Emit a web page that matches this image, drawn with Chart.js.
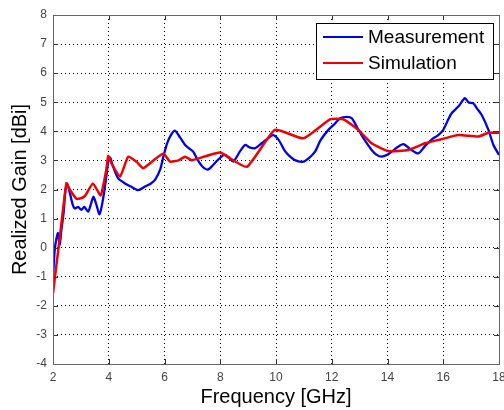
<!DOCTYPE html>
<html>
<head>
<meta charset="utf-8">
<script src="https://cdn.jsdelivr.net/npm/chart.js@4"></script>
<style>
  html, body { margin: 0; padding: 0; background: #fff; }
  #wrap { width: 504px; height: 410px; }
</style>
</head>
<body>
<div id="wrap"><canvas id="gainChart" width="504" height="410"></canvas></div>
<script>
// measured realized gain (blue)
const measFreq = [2.0, 2.06, 2.12, 2.18, 2.24, 2.30, 2.38, 2.45, 2.51, 2.6, 2.7, 2.78, 2.9, 3.02, 3.12, 3.26, 3.36, 3.45, 3.55, 3.67, 3.8, 3.92, 4.0, 4.05, 4.15, 4.34, 4.6, 4.8, 5.06, 5.3, 5.5, 5.66, 5.85, 5.96, 6.1, 6.25, 6.38, 6.55, 6.74, 6.9, 7.03, 7.2, 7.4, 7.57, 7.75, 8.0, 8.17, 8.3, 8.47, 8.7, 8.89, 9.05, 9.25, 9.5, 9.7, 9.9, 10.1, 10.3, 10.44, 10.7, 10.98, 11.2, 11.4, 11.6, 11.88, 12.1, 12.3, 12.54, 12.72, 12.9, 13.07, 13.25, 13.43, 13.6, 13.79, 14.0, 14.15, 14.35, 14.57, 14.8, 15.1, 15.35, 15.64, 15.8, 16.0, 16.15, 16.3, 16.54, 16.78, 16.9, 17.08, 17.2, 17.38, 17.62, 17.8, 18.0];
const measGain = [-1.0, -0.1, 0.3, 0.5, 0.1, 0.6, 1.2, 2.0, 2.2, 1.9, 1.5, 1.35, 1.4, 1.3, 1.4, 1.24, 1.5, 1.75, 1.5, 1.15, 1.7, 2.5, 3.1, 3.1, 2.8, 2.38, 2.2, 2.1, 1.98, 2.1, 2.2, 2.33, 2.7, 3.13, 3.6, 3.9, 4.02, 3.8, 3.53, 3.4, 3.3, 3.0, 2.75, 2.69, 2.85, 3.1, 3.19, 3.1, 2.96, 3.3, 3.53, 3.45, 3.42, 3.6, 3.75, 3.87, 3.7, 3.35, 3.19, 3.0, 2.96, 3.1, 3.3, 3.7, 4.05, 4.25, 4.45, 4.5, 4.45, 4.15, 3.87, 3.6, 3.36, 3.2, 3.13, 3.2, 3.3, 3.45, 3.56, 3.4, 3.24, 3.5, 3.76, 3.85, 4.05, 4.35, 4.62, 4.85, 5.14, 5.0, 4.96, 4.8, 4.56, 4.05, 3.53, 3.19];

// simulated realized gain (red)
const simFreq = [2.0, 2.25, 2.48, 2.6, 2.84, 3.0, 3.15, 3.43, 3.71, 3.91, 3.98, 4.1, 4.4, 4.7, 5.0, 5.24, 5.6, 5.96, 6.2, 6.5, 6.74, 6.98, 7.5, 8.0, 8.95, 9.96, 10.98, 11.94, 12.42, 12.95, 13.43, 14.03, 14.75, 15.35, 15.94, 16.54, 17.26, 17.62, 18.0];
const simGain = [-1.56, 0.4, 2.21, 2.0, 1.68, 1.7, 1.78, 2.21, 1.8, 2.67, 3.15, 2.9, 2.44, 3.13, 2.95, 2.73, 3.0, 3.24, 2.96, 3.0, 3.13, 3.01, 3.15, 3.27, 2.78, 4.05, 3.76, 4.41, 4.41, 4.05, 3.59, 3.32, 3.36, 3.59, 3.73, 3.87, 3.82, 3.95, 3.95];

const seriesNames = ["Measurement", "Simulation"];
const seriesColors = ["#0000f0", "#f00000"];

const xTitle = "Frequency [GHz]";
const yTitle = "Realized Gain [dBi]";

const toPoints = (xs, ys) => xs.map((x, i) => ({ x: x, y: ys[i] }));

// matlab style box with inward ticks + legend
const boxPlugin = {
    id: "matlabBox",
    afterDraw(chart) {
        const ctx = chart.ctx;
        const a = chart.chartArea;
        const xs = chart.scales.x;
        const ys = chart.scales.y;
        ctx.save();
        ctx.strokeStyle = "#333";
        ctx.lineWidth = 1;
        ctx.beginPath();
        xs.ticks.forEach(t => {
            const px = Math.round(xs.getPixelForValue(t.value)) + 0.5;
            ctx.moveTo(px, a.bottom); ctx.lineTo(px, a.bottom - 5);
            ctx.moveTo(px, a.top); ctx.lineTo(px, a.top + 5);
        });
        ys.ticks.forEach(t => {
            const py = Math.round(ys.getPixelForValue(t.value)) + 0.5;
            ctx.moveTo(a.left, py); ctx.lineTo(a.left + 5, py);
            ctx.moveTo(a.right, py); ctx.lineTo(a.right - 5, py);
        });
        ctx.stroke();
        ctx.strokeStyle = "#666";
        ctx.strokeRect(Math.round(a.left) + 0.5, Math.round(a.top) + 0.5, Math.round(a.right - a.left), Math.round(a.bottom - a.top));

        // legend
        const w = 177, h = 56;
        const lx = Math.round(a.right - 6 - w), ly = Math.round(a.top + 8);
        ctx.fillStyle = "#fff";
        ctx.fillRect(lx, ly, w, h);
        ctx.strokeStyle = "#000";
        ctx.strokeRect(lx + 0.5, ly + 0.5, w, h);
        ctx.font = "19px 'Liberation Sans', Arial, sans-serif";
        ctx.textBaseline = "middle";
        seriesNames.forEach((name, i) => {
            const yy = ly + 14 + i * 26;
            ctx.strokeStyle = seriesColors[i];
            ctx.lineWidth = 2;
            ctx.beginPath();
            ctx.moveTo(lx + 7, yy); ctx.lineTo(lx + 47, yy);
            ctx.stroke();
            ctx.fillStyle = "#000";
            ctx.fillText(name, lx + 52, yy + 1);
        });
        ctx.restore();
    }
};

const tickFont = { family: "'Liberation Sans', Arial, sans-serif", size: 12 };
const titleFont = { family: "'Liberation Sans', Arial, sans-serif", size: 20, lineHeight: 1.2 };

new Chart(document.getElementById("gainChart"), {
    type: "line",
    data: {
        datasets: [
            {
                label: seriesNames[0],
                data: toPoints(measFreq, measGain),
                borderColor: seriesColors[0],
                borderWidth: 2.3,
                pointRadius: 0,
                tension: 0.25,
                order: 1
            },
            {
                label: seriesNames[1],
                data: toPoints(simFreq, simGain),
                borderColor: seriesColors[1],
                borderWidth: 2.5,
                pointRadius: 0,
                tension: 0.15,
                order: 0
            }
        ]
    },
    options: {
        responsive: false,
        animation: false,
        layout: { padding: { top: 15, right: 5, left: 0, bottom: 0 } },
        plugins: {
            legend: { display: false },
            tooltip: { enabled: false }
        },
        scales: {
            x: {
                type: "linear",
                min: 2,
                max: 18,
                afterFit: (s) => { s.height = 46; s.paddingLeft = 0; s.paddingRight = 0; },
                ticks: { stepSize: 2, color: "#444", font: tickFont, padding: 6, maxRotation: 0 },
                grid: { color: "#000", lineWidth: 1, drawTicks: false },
                border: { display: false, dash: [1, 3] },
                title: { display: true, text: xTitle, color: "#000", font: titleFont, padding: { top: 0, bottom: 1 } }
            },
            y: {
                min: -4,
                max: 8,
                afterFit: (s) => { s.width = 53; s.paddingTop = 0; s.paddingBottom = 0; },
                ticks: { stepSize: 1, color: "#444", font: tickFont, padding: 6 },
                grid: { color: "#000", lineWidth: 1, drawTicks: false },
                border: { display: false, dash: [1, 3] },
                title: { display: true, text: yTitle, color: "#000", font: titleFont, padding: { top: 8, bottom: 0 } }
            }
        }
    },
    plugins: [boxPlugin]
});
</script>
</body>
</html>
